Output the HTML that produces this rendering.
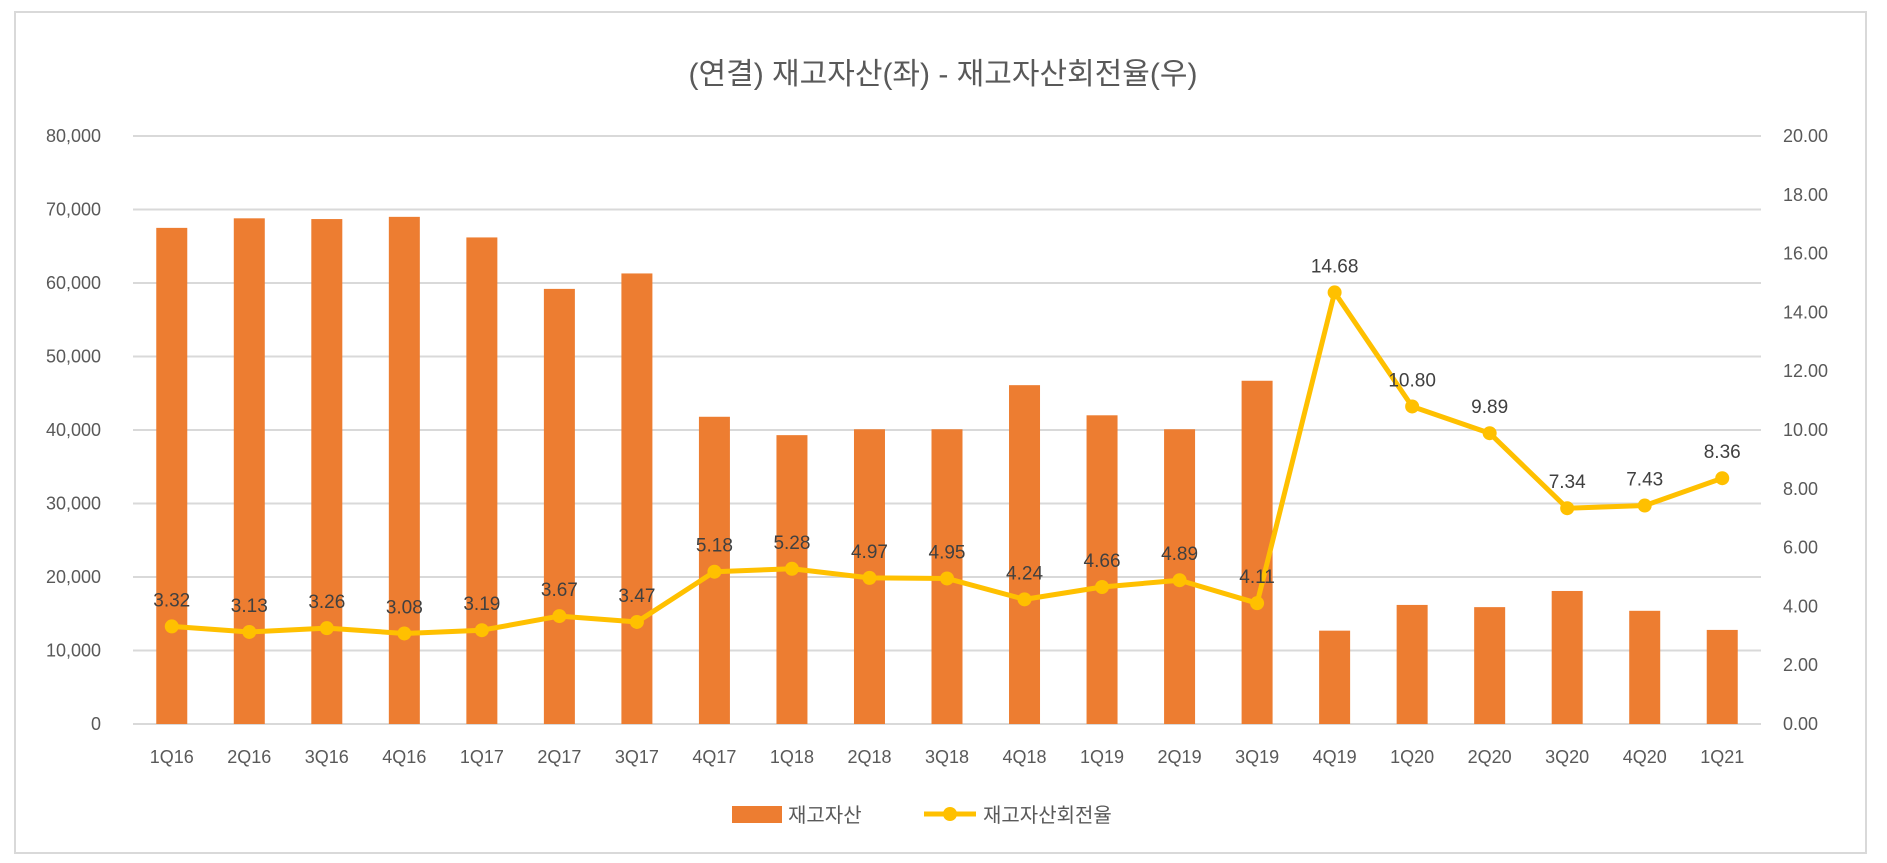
<!DOCTYPE html>
<html><head><meta charset="utf-8"><style>
body{margin:0;background:#fff;}
svg{display:block;font-family:"Liberation Sans","Noto Sans CJK KR",sans-serif;}
</style></head><body>
<svg id="c" width="1887" height="863">
<rect x="15" y="12" width="1851" height="841" fill="#fff" stroke="#d9d9d9" stroke-width="2"/>
<text x="943" y="84" text-anchor="middle" font-size="30" fill="#595959">(연결) 재고자산(좌) - 재고자산회전율(우)</text>
<g id="grid"></g><g id="bars"></g><g id="line"></g><g id="labels"></g>
<g>
<rect x="732" y="806" width="50" height="17" fill="#ED7D31"/>
<text x="788" y="822" font-size="20" fill="#595959">재고자산</text>
<line x1="924" y1="814" x2="976" y2="814" stroke="#FFC000" stroke-width="5"/>
<circle cx="950" cy="814" r="7" fill="#FFC000"/>
<text x="983" y="822" font-size="20" fill="#595959">재고자산회전율</text>
</g>
</svg>
<script>
const categories=["1Q16","2Q16","3Q16","4Q16","1Q17","2Q17","3Q17","4Q17","1Q18","2Q18","3Q18","4Q18","1Q19","2Q19","3Q19","4Q19","1Q20","2Q20","3Q20","4Q20","1Q21"];
const inventory=[67500,68800,68700,69000,66200,59200,61300,41800,39300,40100,40100,46100,42000,40100,46700,12700,16200,15900,18100,15400,12800];
const turnover=[3.32,3.13,3.26,3.08,3.19,3.67,3.47,5.18,5.28,4.97,4.95,4.24,4.66,4.89,4.11,14.68,10.80,9.89,7.34,7.43,8.36];
const leftTicks=[0,10000,20000,30000,40000,50000,60000,70000,80000];
const rightTicks=[0,2,4,6,8,10,12,14,16,18,20];
const NS="http://www.w3.org/2000/svg";
const L=133,R=1761,T=136,B=724;
const bw=(R-L)/categories.length;
const yL=v=>B-(v/80000)*(B-T);
const yR=v=>B-(v/20)*(B-T);
const xC=i=>L+bw*(i+0.5);
function mk(tag,attrs,parent){const e=document.createElementNS(NS,tag);for(const k in attrs)e.setAttribute(k,attrs[k]);document.getElementById(parent).appendChild(e);return e;}
leftTicks.forEach(t=>{
  const g=mk("line",{x1:L,x2:R,y1:yL(t),y2:yL(t),stroke:"#d9d9d9","stroke-width":2},"grid");
  
  
  const tx=mk("text",{x:101,y:yL(t)+6,"text-anchor":"end","font-size":18,fill:"#595959"},"grid");
  tx.textContent=t.toLocaleString("en-US");
  
  
});
rightTicks.forEach(t=>{
  const tx=mk("text",{x:1783,y:yR(t)+6,"font-size":18,fill:"#595959"},"grid");
  tx.textContent=t.toFixed(2);
  
  
});
categories.forEach((c,i)=>{
  const b=mk("rect",{x:xC(i)-15.5,y:yL(inventory[i]),width:31,height:B-yL(inventory[i]),fill:"#ED7D31"},"bars");
  
  
  const tx=mk("text",{x:xC(i),y:763,"text-anchor":"middle","font-size":18,fill:"#595959"},"labels");
  tx.textContent=c;
  
  
});
const pl=mk("polyline",{points:turnover.map((v,i)=>xC(i)+","+yR(v)).join(" "),fill:"none",stroke:"#FFC000","stroke-width":5,"stroke-linejoin":"round"},"line");


turnover.forEach((v,i)=>{
  const p=mk("circle",{cx:xC(i),cy:yR(v),r:7,fill:"#FFC000"},"line");
  
  
  const tx=mk("text",{x:xC(i),y:yR(v)-20,"text-anchor":"middle","font-size":19,fill:"#404040"},"labels");
  tx.textContent=v.toFixed(2);
  
  
});
</script>
</body></html>
